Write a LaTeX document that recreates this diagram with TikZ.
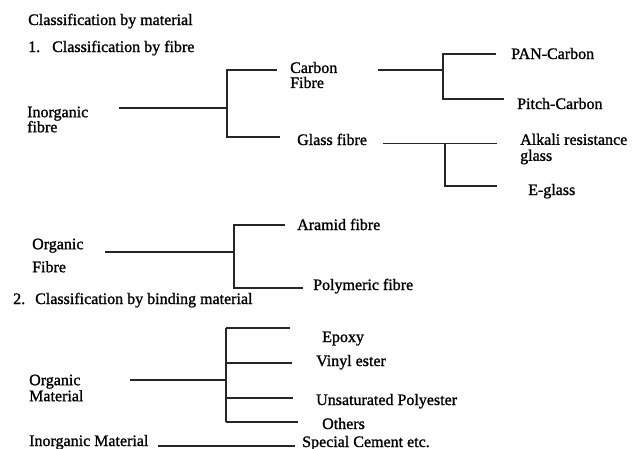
\documentclass[tikz,border=0pt]{standalone}
\usepackage{fontspec}
\setmainfont[FakeBold=1.2,AutoFakeBold=1.2]{Liberation Serif}
\begin{document}
\begin{tikzpicture}[x=1pt,y=-1pt,
  lbl/.style={anchor=base west,inner sep=0,font=\fontsize{16}{15}\selectfont\bfseries},
  mlbl/.style={anchor=west,inner sep=0,align=left,font=\fontsize{16}{#1}\selectfont\bfseries},
  ln/.style={line width=1.1pt,draw=black!85}]
\useasboundingbox (0,0) rectangle (642,448);
% texts
\node[lbl] (title) at (28,25) {Classification by material};
\node[lbl] (sec1) at (28,52) {\makebox[24pt][l]{1.}Classification by fibre};
\node[mlbl=15] (inorg) at (27,119.5) {Inorganic\\fibre};
\node[mlbl=15] (carbon) at (290,75) {Carbon\\Fibre};
\node[lbl] (glass) at (297,145) {Glass fibre};
\node[lbl] (pan) at (511,59) {PAN-Carbon};
\node[lbl] (pitch) at (517,109) {Pitch-Carbon};
\node[mlbl=16] (alkali) at (520,149) {Alkali resistance\\glass};
\node[lbl] (eglass) at (528,195) {E-glass};
\node[mlbl=23] (org) at (32,255.5) {Organic\\Fibre};
\node[lbl] (aramid) at (297,230) {Aramid fibre};
\node[lbl] (poly) at (313,290) {Polymeric fibre};
\node[lbl] (sec2) at (13,304) {\makebox[22pt][l]{2.}Classification by binding material};
\node[mlbl=16] (orgm) at (29,388) {Organic\\Material};
\node[lbl] (epoxy) at (322,342) {Epoxy};
\node[lbl] (vinyl) at (316,366) {Vinyl ester};
\node[lbl] (unsat) at (316,405) {Unsaturated Polyester};
\node[lbl] (others) at (322,429) {Others};
\node[lbl] (inorgm) at (29,446) {Inorganic Material};
\node[lbl] (cement) at (302,447) {Special Cement etc.};
% junction coordinates
\coordinate (i0) at (119,108); \coordinate (i1) at (227,108);
\coordinate (i2) at (227,70); \coordinate (i3) at (277,70);
\coordinate (i4) at (227,137); \coordinate (i5) at (280,137);
\coordinate (c0) at (378,70); \coordinate (c1) at (443,70);
\coordinate (c2) at (443,54); \coordinate (c3) at (496,54);
\coordinate (c4) at (443,99); \coordinate (c5) at (504,99);
\coordinate (g0) at (383,143.5); \coordinate (g1) at (445,143.5);
\coordinate (g2) at (497,143.5);
\coordinate (g3) at (445,186); \coordinate (g4) at (497,186);
\coordinate (o0) at (105,252); \coordinate (o1) at (234,252);
\coordinate (o2) at (234,225); \coordinate (o3) at (285,225);
\coordinate (o4) at (234,288); \coordinate (o5) at (303,288);
\coordinate (m0) at (130,380); \coordinate (m1) at (226,380);
\coordinate (m2) at (226,328); \coordinate (m3) at (290,328);
\coordinate (m4) at (226,363); \coordinate (m5) at (292,363);
\coordinate (m6) at (226,398); \coordinate (m7) at (293,398);
\coordinate (m8) at (226,422); \coordinate (m9) at (298,422);
\coordinate (n0) at (158,446); \coordinate (n1) at (295,446);
% connectors
\draw[ln] (i0) -- (i1);
\draw[ln] (i3) -- (i2) -- (i4) -- (i5);
\draw[ln] (c0) -- (c1);
\draw[ln] (c3) -- (c2) -- (c4) -- (c5);
\draw[ln] (g0) -- (g2);
\draw[ln] (g1) -- (g3) -- (g4);
\draw[ln] (o0) -- (o1);
\draw[ln] (o3) -- (o2) -- (o4) -- (o5);
\draw[ln] (m0) -- (m1);
\draw[ln] (m2) -- (m8);
\draw[ln] (m2) -- (m3);
\draw[ln] (m4) -- (m5);
\draw[ln] (m6) -- (m7);
\draw[ln] (m8) -- (m9);
\draw[ln] (n0) -- (n1);
\end{tikzpicture}
\end{document}
